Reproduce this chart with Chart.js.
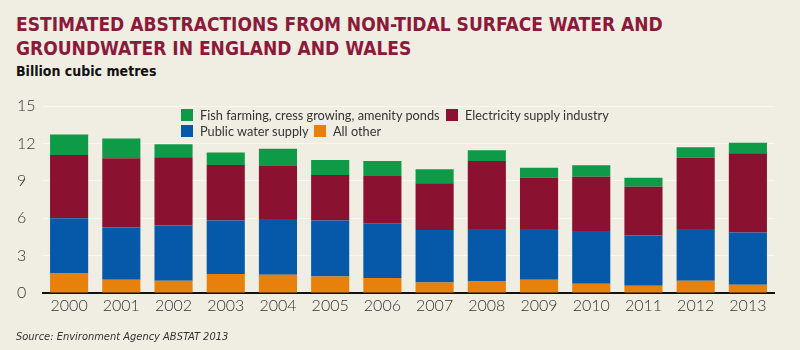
<!DOCTYPE html>
<html>
<head>
<meta charset="utf-8">
<script src="https://cdn.jsdelivr.net/npm/chart.js@4.4.1/dist/chart.umd.min.js"></script>
<style>
  html, body { margin:0; padding:0; background:#f0ede3; }
  #wrap { position:relative; width:800px; height:350px; overflow:hidden; background:#f0ede3; }
  #c { position:absolute; left:0; top:0; }
  .title { position:absolute; left:16px; top:12px; font-family:"Liberation Sans Narrow","DejaVu Sans Condensed","Liberation Sans",sans-serif; font-stretch:condensed; font-weight:bold; font-size:19px; line-height:24px; color:#8b1a3a; }
  .sub { position:absolute; left:16px; top:63px; font-family:"Liberation Sans Narrow","DejaVu Sans Condensed","Liberation Sans",sans-serif; font-stretch:condensed; font-weight:bold; font-size:14px; color:#111; }
  .src { position:absolute; left:16px; top:330px; font-family:"Liberation Sans Narrow","DejaVu Sans Condensed","Liberation Sans",sans-serif; font-stretch:condensed; font-style:italic; font-size:11px; color:#333; }
  .leg { position:absolute; font-family:Lato,"Open Sans",sans-serif; font-size:12.75px; color:#333; white-space:nowrap; }
  .leg span.sw { position:absolute; left:0; top:1px; width:12px; height:12px; }
  .leg span.tx { position:absolute; left:19px; top:-1px; }
</style>
</head>
<body>
<div id="wrap">
  <div class="title">ESTIMATED ABSTRACTIONS FROM NON-TIDAL SURFACE WATER AND<br>GROUNDWATER IN ENGLAND AND WALES</div>
  <div class="sub">Billion cubic metres</div>
  <canvas id="c" width="800" height="350"></canvas>
  <div id="legend"></div>
  <div class="src">Source: Environment Agency ABSTAT 2013</div>
</div>
<script>
const years = ["2000","2001","2002","2003","2004","2005","2006","2007","2008","2009","2010","2011","2012","2013"];
const allOther = [1.60,1.07,0.98,1.52,1.47,1.33,1.20,0.85,0.93,1.07,0.74,0.58,0.98,0.66];
const publicWater = [4.40,4.18,4.43,4.29,4.47,4.48,4.40,4.21,4.21,4.07,4.24,4.03,4.16,4.19];
const electricity = [5.07,5.55,5.47,4.45,4.24,3.65,3.78,3.74,5.44,4.11,4.35,3.92,5.71,6.35];
const fishFarming = [1.65,1.60,1.06,1.02,1.39,1.20,1.20,1.12,0.88,0.80,0.91,0.72,0.85,0.85];
const yTicks = [0,3,6,9,12,15];

const colors = { green:"#0f9a48", red:"#8a1230", blue:"#0559a8", orange:"#e8800c" };

const legendItems = [
  { label:"Fish farming, cress growing, amenity ponds", color:colors.green, x:181, y:108 },
  { label:"Electricity supply industry", color:colors.red, x:446, y:108 },
  { label:"Public water supply", color:colors.blue, x:181, y:124 },
  { label:"All other", color:colors.orange, x:314, y:124 }
];
const lg = document.getElementById('legend');
legendItems.forEach(it => {
  const d = document.createElement('div');
  d.className = 'leg';
  d.style.left = it.x + 'px'; d.style.top = it.y + 'px';
  d.innerHTML = '<span class="sw" style="background:' + it.color + '"></span><span class="tx">' + it.label + '</span>';
  lg.appendChild(d);
});

const tickFont = { family:"Lato, 'Open Sans', sans-serif", size:16, weight:'300' };

new Chart(document.getElementById('c'), {
  type:'bar',
  data:{
    labels: years,
    datasets:[
      { label:"All other", data:allOther, backgroundColor:colors.orange },
      { label:"Public water supply", data:publicWater, backgroundColor:colors.blue },
      { label:"Electricity supply industry", data:electricity, backgroundColor:colors.red },
      { label:"Fish farming, cress growing, amenity ponds", data:fishFarming, backgroundColor:colors.green }
    ]
  },
  options:{
    responsive:false,
    animation:false,
    layout:{ padding:{ left:17, right:26, top:106, bottom:22 } },
    datasets:{ bar:{ categoryPercentage:0.73, barPercentage:1.0, borderWidth:0 } },
    plugins:{ legend:{ display:false }, tooltip:{ enabled:false }, title:{ display:false } },
    scales:{
      x:{
        stacked:true,
        grid:{ display:false, drawTicks:false },
        border:{ display:true, color:'#111', width:2 },
        ticks:{ font:tickFont, color:'#333', padding:3, maxRotation:0 },
        afterFit: s => { s.height = 35; }
      },
      y:{
        stacked:true,
        min:0, max:15,
        afterBuildTicks: s => { s.ticks = yTicks.map(v => ({ value:v })); },
        grid:{ color:'#f9f7f2', lineWidth:1, drawTicks:false },
        border:{ display:false },
        ticks:{ font:tickFont, color:'#333', crossAlign:'far', padding:0 },
        afterFit: s => { s.width = 26; }
      }
    }
  }
});
</script>
</body>
</html>
